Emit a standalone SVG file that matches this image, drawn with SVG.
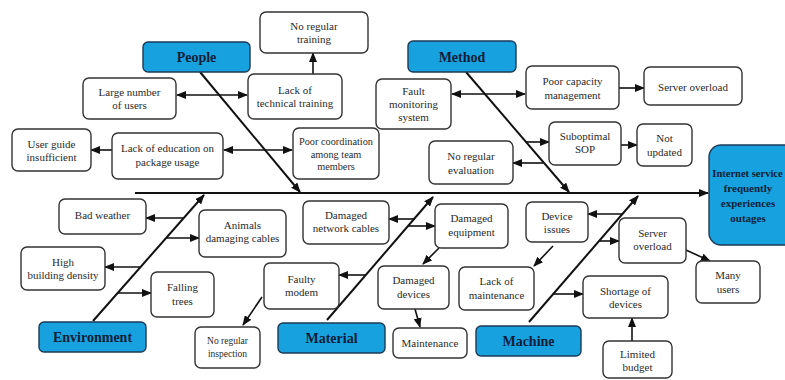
<svg xmlns="http://www.w3.org/2000/svg" width="785" height="380" viewBox="0 0 785 380">
<defs>
<marker id="ah" markerUnits="userSpaceOnUse" markerWidth="10" markerHeight="8" refX="9" refY="4" orient="auto-start-reverse">
<path d="M0,0 L10,4 L0,8 z" fill="#111"/>
</marker>
<style>
.box{fill:#fff;stroke:#333;stroke-width:1.4}
.cat{fill:#17a2df;stroke:#1d3a55;stroke-width:1.4}
.t{font-family:"Liberation Serif","Times New Roman",serif;font-size:11px;fill:#2a2a2a;text-anchor:middle}
.s{font-size:10.3px}
.c{font-family:"Liberation Serif","Times New Roman",serif;font-size:14px;font-weight:bold;fill:#0d1d38;text-anchor:middle}
.o{font-family:"Liberation Serif","Times New Roman",serif;font-size:11px;font-weight:bold;fill:#0d1d38;text-anchor:middle}
.sp{stroke:#111;stroke-width:2;fill:none;marker-end:url(#ah)}
.a{stroke:#111;stroke-width:1.6;fill:none;marker-end:url(#ah)}
.d{stroke:#111;stroke-width:1.6;fill:none;marker-start:url(#ah);marker-end:url(#ah)}
</style>
</defs>
<rect width="785" height="380" fill="#fff"/>

<g id="connectors">
<line class="sp" x1="135" y1="193" x2="708" y2="193"/>
<line class="sp" x1="200" y1="72" x2="300" y2="192"/>
<line class="sp" x1="466" y1="72" x2="569" y2="192"/>
<line class="sp" x1="93" y1="321" x2="204" y2="195"/>
<line class="sp" x1="327" y1="320" x2="433" y2="197"/>
<line class="sp" x1="529" y1="322" x2="638" y2="196"/>
<line class="d" x1="177" y1="95" x2="247" y2="95"/>
<line class="a" x1="313" y1="74" x2="313" y2="53"/>
<line class="a" x1="112" y1="150" x2="91" y2="150"/>
<line class="d" x1="224" y1="150" x2="292" y2="150"/>
<line class="d" x1="452" y1="94" x2="525" y2="94"/>
<line class="a" x1="619" y1="88" x2="644" y2="88"/>
<line class="a" x1="526" y1="142" x2="549" y2="142"/>
<line class="a" x1="621" y1="145" x2="637" y2="145"/>
<line class="a" x1="543" y1="163" x2="513" y2="163"/>
<line class="a" x1="184" y1="218" x2="146" y2="218"/>
<line class="a" x1="166" y1="238" x2="199" y2="238"/>
<line class="a" x1="140" y1="267" x2="105" y2="267"/>
<line class="a" x1="117" y1="293" x2="151" y2="293"/>
<line class="a" x1="415" y1="219" x2="389" y2="219"/>
<line class="a" x1="408" y1="226" x2="435" y2="226"/>
<line class="a" x1="366" y1="275" x2="339" y2="275"/>
<line class="a" x1="262" y1="297" x2="243" y2="325"/>
<line class="a" x1="439" y1="248" x2="423" y2="264"/>
<line class="a" x1="415" y1="309" x2="420" y2="327"/>
<line class="a" x1="622" y1="214" x2="588" y2="214"/>
<line class="a" x1="600" y1="241" x2="619" y2="241"/>
<line class="a" x1="553" y1="246" x2="534" y2="266"/>
<line class="a" x1="686" y1="250" x2="710" y2="261"/>
<line class="a" x1="553" y1="294" x2="583" y2="294"/>
<line class="a" x1="632" y1="341" x2="632" y2="318"/>
</g>

<g id="people"><rect class="cat" x="143" y="42" width="107" height="30" rx="5"/><text class="c" x="196.5" y="62">People</text></g>
<g id="no-regular-training"><rect class="box" x="260" y="12" width="108" height="41" rx="6"/><text class="t" x="314" y="30">No regular</text><text class="t" x="314" y="43">training</text></g>
<g id="large-number-users"><rect class="box" x="83" y="78" width="93" height="41" rx="6"/><text class="t" x="129.5" y="96">Large number</text><text class="t" x="129.5" y="109">of users</text></g>
<g id="lack-technical-training"><rect class="box" x="248" y="74" width="94" height="45" rx="6"/><text class="t" x="295" y="94">Lack of</text><text class="t" x="295" y="107">technical training</text></g>
<g id="user-guide"><rect class="box" x="12" y="129" width="79" height="42" rx="6"/><text class="t" x="51.5" y="148">User guide</text><text class="t" x="51.5" y="161">insufficient</text></g>
<g id="lack-education"><rect class="box" x="112" y="133" width="111" height="46" rx="6"/><text class="t" x="167.5" y="152">Lack of education on</text><text class="t" x="167.5" y="166">package usage</text></g>
<g id="poor-coordination"><rect class="box" x="293" y="128" width="86" height="51" rx="6"/><text class="t s" x="336" y="145">Poor coordination</text><text class="t s" x="336" y="158">among team</text><text class="t s" x="336" y="170">members</text></g>

<g id="method"><rect class="cat" x="408" y="41" width="108" height="31" rx="5"/><text class="c" x="462" y="62">Method</text></g>
<g id="fault-monitoring"><rect class="box" x="376" y="79" width="75" height="50" rx="6"/><text class="t" x="413.5" y="95">Fault</text><text class="t" x="413.5" y="108">monitoring</text><text class="t" x="413.5" y="121">system</text></g>
<g id="poor-capacity"><rect class="box" x="526" y="66" width="93" height="43" rx="6"/><text class="t" x="572.5" y="85">Poor capacity</text><text class="t" x="572.5" y="99">management</text></g>
<g id="server-overload-1"><rect class="box" x="644" y="67" width="98" height="38" rx="6"/><text class="t" x="693" y="91">Server overload</text></g>
<g id="suboptimal-sop"><rect class="box" x="549" y="122" width="72" height="43" rx="6"/><text class="t" x="585" y="140">Suboptimal</text><text class="t" x="585" y="153">SOP</text></g>
<g id="not-updated"><rect class="box" x="637" y="124" width="55" height="42" rx="6"/><text class="t" x="664.5" y="142">Not</text><text class="t" x="664.5" y="156">updated</text></g>
<g id="no-regular-evaluation"><rect class="box" x="429" y="141" width="84" height="43" rx="6"/><text class="t" x="471" y="160">No regular</text><text class="t" x="471" y="174">evaluation</text></g>

<g id="outcome"><rect class="cat" x="709" y="145" width="95" height="100" rx="12"/><text class="o" style="font-size:10.5px" x="747.5" y="177">Internet service</text><text class="o" x="748" y="192">frequently</text><text class="o" x="748" y="207">experiences</text><text class="o" x="748" y="222">outages</text></g>

<g id="environment"><rect class="cat" x="39" y="322" width="107" height="30" rx="5"/><text class="c" x="92.5" y="342">Environment</text></g>
<g id="bad-weather"><rect class="box" x="59" y="199" width="87" height="35" rx="6"/><text class="t" x="102.5" y="219">Bad weather</text></g>
<g id="animals"><rect class="box" x="199" y="210" width="87" height="47" rx="6"/><text class="t" x="242.5" y="229">Animals</text><text class="t" x="242.5" y="242">damaging cables</text></g>
<g id="high-building-density"><rect class="box" x="21" y="247" width="84" height="43" rx="6"/><text class="t" x="63" y="266">High</text><text class="t" x="63" y="279">building density</text></g>
<g id="falling-trees"><rect class="box" x="151" y="272" width="63" height="45" rx="6"/><text class="t" x="182.5" y="291">Falling</text><text class="t" x="182.5" y="305">trees</text></g>

<g id="material"><rect class="cat" x="278" y="323" width="107" height="30" rx="5"/><text class="c" x="331.5" y="343">Material</text></g>
<g id="damaged-network-cables"><rect class="box" x="303" y="201" width="86" height="43" rx="6"/><text class="t" x="346" y="219">Damaged</text><text class="t" x="346" y="232">network cables</text></g>
<g id="damaged-equipment"><rect class="box" x="435" y="204" width="73" height="44" rx="6"/><text class="t" x="471.5" y="222">Damaged</text><text class="t" x="471.5" y="236">equipment</text></g>
<g id="faulty-modem"><rect class="box" x="264" y="263" width="75" height="46" rx="6"/><text class="t" x="301.5" y="283">Faulty</text><text class="t" x="301.5" y="296">modem</text></g>
<g id="no-regular-inspection"><rect class="box" x="195" y="327" width="65" height="41" rx="6"/><text class="t" style="font-size:9.5px" x="227.5" y="344">No regular</text><text class="t" style="font-size:9.5px" x="227.5" y="357">inspection</text></g>
<g id="damaged-devices"><rect class="box" x="378" y="266" width="71" height="43" rx="6"/><text class="t" x="413.5" y="284">Damaged</text><text class="t" x="413.5" y="298">devices</text></g>
<g id="maintenance"><rect class="box" x="393" y="328" width="74" height="30" rx="6"/><text class="t" x="430" y="347">Maintenance</text></g>

<g id="machine"><rect class="cat" x="476" y="326" width="105" height="30" rx="5"/><text class="c" x="528.5" y="346">Machine</text></g>
<g id="device-issues"><rect class="box" x="526" y="202" width="62" height="40" rx="6"/><text class="t" x="557" y="220">Device</text><text class="t" x="557" y="233">issues</text></g>
<g id="lack-of-maintenance"><rect class="box" x="459" y="267" width="75" height="43" rx="6"/><text class="t" x="496.5" y="285">Lack of</text><text class="t" x="496.5" y="299">maintenance</text></g>
<g id="server-overload-2"><rect class="box" x="619" y="218" width="67" height="45" rx="6"/><text class="t" x="652.5" y="237">Server</text><text class="t" x="652.5" y="250">overload</text></g>
<g id="many-users"><rect class="box" x="696" y="261" width="64" height="42" rx="6"/><text class="t" x="728" y="279">Many</text><text class="t" x="728" y="293">users</text></g>
<g id="shortage-of-devices"><rect class="box" x="583" y="276" width="85" height="42" rx="6"/><text class="t" x="625.5" y="295">Shortage of</text><text class="t" x="625.5" y="308">devices</text></g>
<g id="limited-budget"><rect class="box" x="603" y="341" width="69" height="37" rx="6"/><text class="t" x="637.5" y="358">Limited</text><text class="t" x="637.5" y="371">budget</text></g>
</svg>
